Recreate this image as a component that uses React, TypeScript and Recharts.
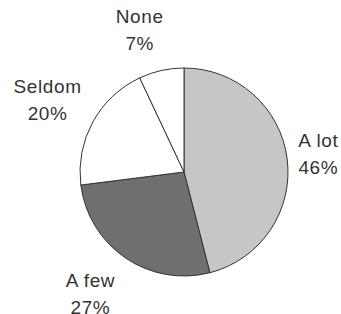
import React from 'react';
import { PieChart, Pie, Cell } from 'recharts';

const categories = ['A lot', 'A few', 'Seldom', 'None'];
const percents = [46, 27, 20, 7];
const colors = ['#c6c6c6', '#6f6f6f', '#ffffff', '#ffffff'];

const data = categories.map((name, i) => ({ name, value: percents[i] }));

const FONT = 19;
const LINE = 27;
const SPACING = 0.6;
const RAD = Math.PI / 180;

const charW = (c: string) => {
  if ('lit f'.includes(c)) return 0.3;
  if ('mwM%W'.includes(c)) return 0.86;
  return 0.58;
};
const textW = (s: string) =>
  s.split('').reduce((a, c) => a + charW(c) * FONT + SPACING, 0);

const renderLabel = (props: any) => {
  const { cx, cy, midAngle, outerRadius, name, value } = props;
  const dx = Math.cos(-midAngle * RAD);
  const dy = Math.sin(-midAngle * RAD);
  const gap = 10 + 8 * dy * dy;
  const px = cx + (outerRadius + gap) * dx;
  const py = cy + (outerRadius + gap) * dy;
  const line2 = `${value}%`;
  const w = Math.max(textW(name), textW(line2));
  const h = LINE + FONT;
  const clamp = (v: number) => Math.max(-1, Math.min(1, v));
  const bx = px + (w / 2) * clamp(dx * 3.5);
  const by = py + (h / 2) * clamp(dy * 1.5);
  const y1 = by - LINE / 2 + FONT * 0.35;
  return (
    <text
      x={bx}
      y={y1}
      textAnchor="middle"
      fill="#333"
      fontFamily="'Liberation Sans', Arial, sans-serif"
      fontSize={FONT}
      letterSpacing={SPACING}
    >
      <tspan x={bx} y={y1}>{name}</tspan>
      <tspan x={bx} y={y1 + LINE}>{line2}</tspan>
    </text>
  );
};

export default function App() {
  return (
    <div style={{ position: 'absolute', left: 0, top: 0, width: 341, height: 314, background: '#fff' }}>
      <PieChart width={341} height={314} margin={{ top: 0, right: 0, bottom: 0, left: 0 }}>
        <Pie
          data={data}
          dataKey="value"
          nameKey="name"
          cx={184}
          cy={172}
          outerRadius={104}
          startAngle={90}
          endAngle={-270}
          stroke="#333"
          strokeWidth={1}
          label={renderLabel}
          labelLine={false}
          isAnimationActive={false}
        >
          {data.map((d, i) => (
            <Cell key={d.name} fill={colors[i]} />
          ))}
        </Pie>
      </PieChart>
    </div>
  );
}
